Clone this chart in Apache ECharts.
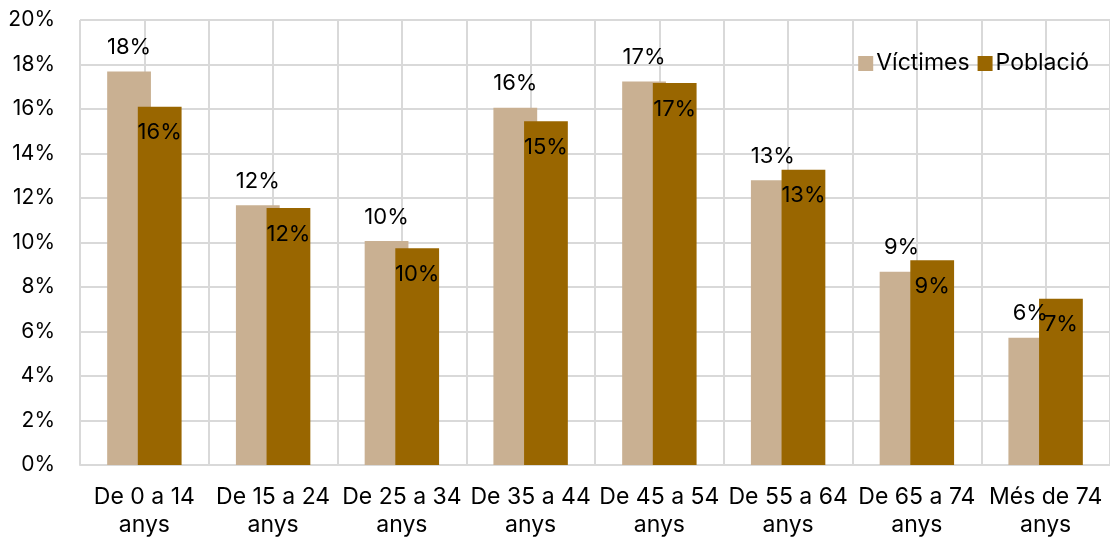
<!DOCTYPE html>
<html>
<head>
<meta charset="utf-8">
<script src="https://cdn.jsdelivr.net/npm/echarts@6/dist/echarts.min.js"></script>
<style>
  html, body { margin: 0; padding: 0; background: #ffffff; }
  #chart { width: 1110px; height: 541px; }
</style>
</head>
<body>
<div id="chart"></div>
<script>
// Age groups
const categories = ['De 0 a 14\nanys', 'De 15 a 24\nanys', 'De 25 a 34\nanys', 'De 35 a 44\nanys',
                    'De 45 a 54\nanys', 'De 55 a 64\nanys', 'De 65 a 74\nanys', 'Més de 74\nanys'];
// Share of each age group (%)
const victimes = [17.68, 11.67, 10.07, 16.06, 17.24, 12.80, 8.69, 5.72];
const poblacio = [16.10, 11.55, 9.74, 15.45, 17.17, 13.27, 9.20, 7.47];
// Y axis ticks (%)
const yMin = 0, yMax = 20, yStep = 2;

const FONT = 'Inter, "Noto Sans", sans-serif';
const GRID_COLOR = '#d9d9d9';

const chart = echarts.init(document.getElementById('chart'), null, { renderer: 'canvas' });

const pctLabel = p => Math.round(p.value) + '%';

chart.setOption({
  animation: false,
  textStyle: { fontFamily: FONT },
  grid: { left: 80, top: 20, width: 1032, height: 445, containLabel: false },
  legend: {
    right: 16, top: 47,
    itemWidth: 15, itemHeight: 15, itemGap: 8,
    icon: 'rect',
    textStyle: { fontSize: 23, color: '#000', fontFamily: FONT, padding: [0, 0, 0, -2] },
    data: ['Víctimes', 'Població']
  },
  xAxis: [
    {
      type: 'category',
      data: categories,
      axisLine: { show: true, lineStyle: { color: GRID_COLOR, width: 2 } },
      axisTick: { show: false },
      splitLine: { show: false },
      axisLabel: { fontSize: 23, color: '#000', margin: 18, lineHeight: 28, interval: 0, fontFamily: FONT }
    },
    {
      // Half-category vertical grid
      type: 'value', position: 'top', min: 0, max: 16, interval: 1,
      axisLine: { show: false }, axisTick: { show: false }, axisLabel: { show: false },
      splitLine: { show: true, lineStyle: { color: GRID_COLOR, width: 2 } }
    }
  ],
  yAxis: {
    type: 'value', min: yMin, max: yMax, interval: yStep,
    axisLine: { show: false }, axisTick: { show: false },
    axisLabel: { formatter: '{value}%', fontSize: 21, color: '#000', margin: 25, fontFamily: FONT },
    splitLine: { show: true, lineStyle: { color: GRID_COLOR, width: 2 } }
  },
  series: [
    {
      name: 'Víctimes', type: 'bar', xAxisIndex: 0, data: victimes,
      barWidth: '34%', barGap: '-30%',
      itemStyle: { color: '#c9b092' },
      label: { show: true, position: 'top', distance: 13, formatter: pctLabel, fontSize: 22, color: '#000', fontFamily: FONT }
    },
    {
      name: 'Població', type: 'bar', xAxisIndex: 0, data: poblacio,
      barWidth: '34%', barGap: '-30%',
      itemStyle: { color: '#996600' },
      label: { show: true, position: 'insideTop', distance: 15, formatter: pctLabel, fontSize: 22, color: '#000', fontFamily: FONT }
    }
  ]
});
</script>
</body>
</html>
